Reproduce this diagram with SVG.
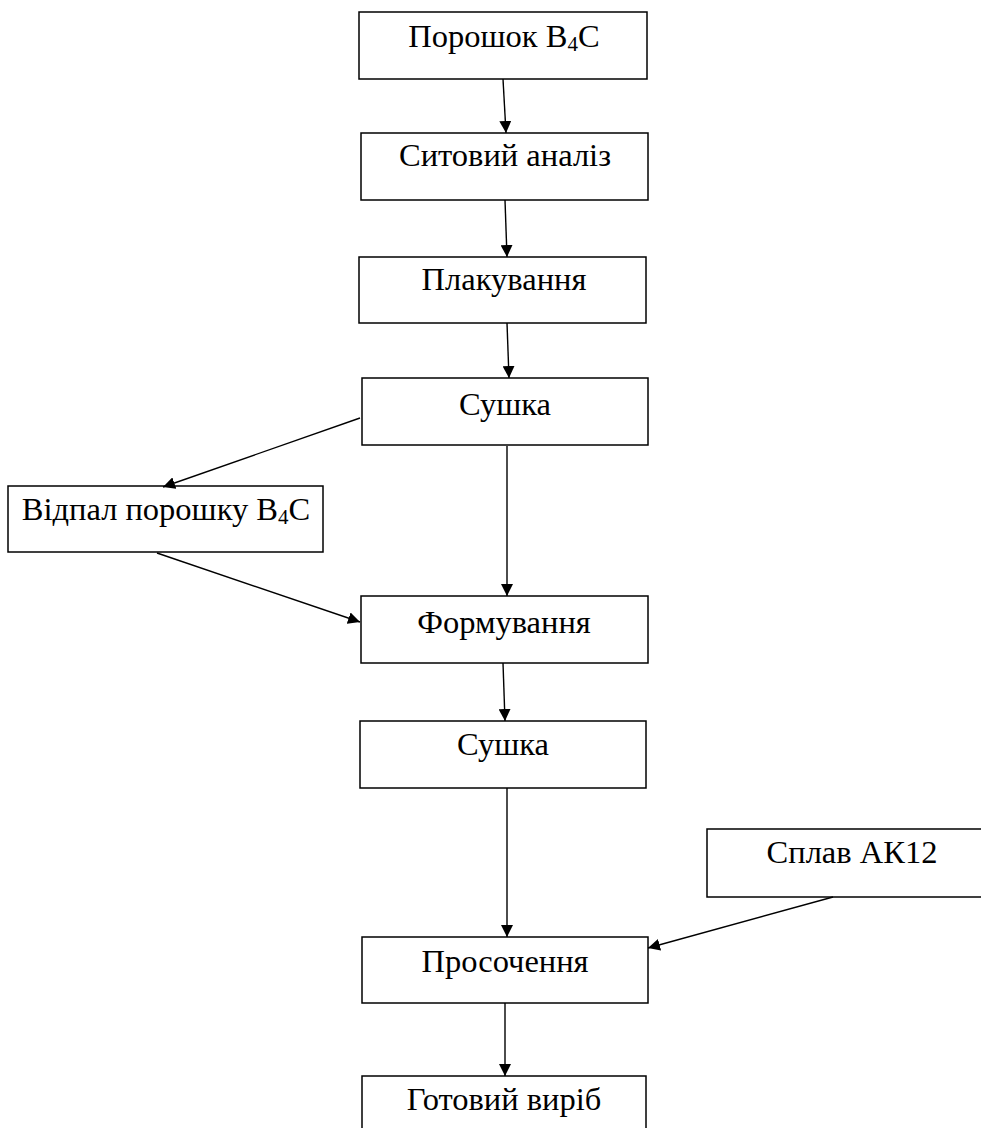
<svg xmlns="http://www.w3.org/2000/svg" width="981" height="1128" viewBox="0 0 981 1128">
<style>
.box{fill:#fff;stroke:#000;stroke-width:1.5}
.t{font-family:"Liberation Serif","Times New Roman",serif;font-size:32.5px;fill:#000;text-anchor:middle}
.sub{font-size:21px}
.c{stroke:#000;stroke-width:1.4;fill:none;marker-end:url(#ah)}
</style>
<defs>
<marker id="ah" markerUnits="userSpaceOnUse" markerWidth="12" markerHeight="12" viewBox="0 0 12 12" refX="12" refY="6" orient="auto">
<path d="M0,0 L12,6 L0,12 z" fill="#000"/>
</marker>
</defs>
<rect width="981" height="1128" fill="#fff"/>
<g id="n1"><rect class="box" x="359" y="12" width="288" height="67"/><text class="t" x="504" y="47">Порошок B<tspan class="sub" dy="4">4</tspan><tspan dy="-4">C</tspan></text></g>
<g id="n2"><rect class="box" x="361" y="133" width="287" height="67"/><text class="t" x="505" y="166">Ситовий аналіз</text></g>
<g id="n3"><rect class="box" x="359" y="257" width="287" height="66"/><text class="t" x="504" y="290">Плакування</text></g>
<g id="n4"><rect class="box" x="362" y="378" width="286" height="67"/><text class="t" x="505" y="415">Сушка</text></g>
<g id="n5"><rect class="box" x="8" y="486" width="315" height="66"/><text class="t" x="166" y="520">Відпал порошку B<tspan class="sub" dy="4">4</tspan><tspan dy="-4">C</tspan></text></g>
<g id="n6"><rect class="box" x="361" y="596" width="287" height="67"/><text class="t" x="504" y="633">Формування</text></g>
<g id="n7"><rect class="box" x="360" y="721" width="286" height="67"/><text class="t" x="503" y="755">Сушка</text></g>
<g id="n8"><rect class="box" x="707" y="829" width="290" height="68"/><text class="t" x="852" y="863">Сплав АК12</text></g>
<g id="n9"><rect class="box" x="362" y="937" width="286" height="66"/><text class="t" x="505" y="972">Просочення</text></g>
<g id="n10"><rect class="box" x="362" y="1076" width="284" height="60"/><text class="t" x="504" y="1110">Готовий виріб</text></g>
<g id="connectors">
<line class="c" x1="503" y1="79" x2="506" y2="133"/>
<line class="c" x1="505" y1="200" x2="507" y2="257"/>
<line class="c" x1="507" y1="323" x2="509" y2="378"/>
<line class="c" x1="360" y1="418" x2="163" y2="487"/>
<line class="c" x1="157" y1="553" x2="360" y2="622"/>
<line class="c" x1="507" y1="446" x2="507" y2="596"/>
<line class="c" x1="503" y1="663" x2="505" y2="721"/>
<line class="c" x1="507" y1="788" x2="507" y2="937"/>
<line class="c" x1="833" y1="897" x2="648" y2="948"/>
<line class="c" x1="505" y1="1003" x2="505" y2="1076"/>
</g>
</svg>
